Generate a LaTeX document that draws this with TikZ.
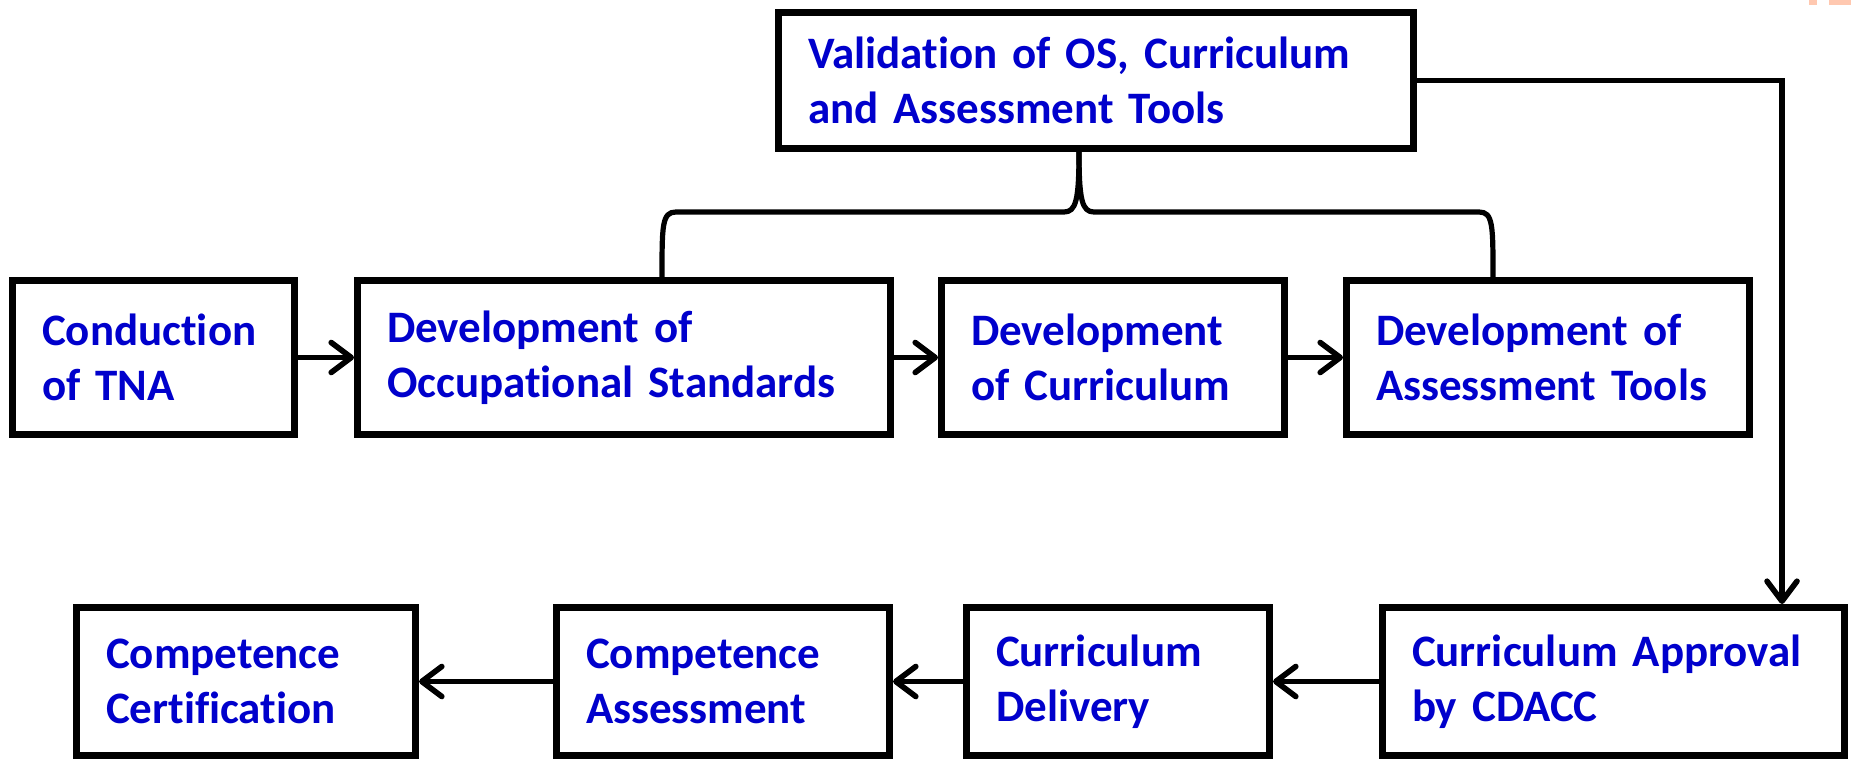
\documentclass[tikz,border=0pt]{standalone}
\usepackage{fontspec}
\setmainfont{Carlito}[Ligatures=NoCommon, WordSpace=0.7]
\usetikzlibrary{arrows.meta,calc}
\definecolor{stageblue}{RGB}{0,0,204}
\definecolor{cornerorange}{RGB}{255,200,176}
\tikzset{
  stage/.style={draw=black, line width=3.5pt, fill=white, text=stageblue,
    font=\bfseries\fontsize{22.5}{27.5}\selectfont, align=left,
    inner xsep=14.75pt, inner ysep=0pt},
  flow/.style={line width=2.8pt, -{Straight Barb[length=10pt,width=15pt,round]}},
  link/.style={line width=2.6pt, line cap=round},
}

\begin{document}
\begin{tikzpicture}[x=0.5pt,y=-0.5pt]
\useasboundingbox (0,0) rectangle (1851,759);

% corner remnant
\fill[cornerorange] (1809,0) rectangle (1817,5);
\fill[cornerorange] (1829,0) rectangle (1851,5);

% validation box
\node[stage, minimum width=317.5pt, text width=288pt, minimum height=68pt] (valid) at (1096,80.5) {Validation of OS, Curriculum\\and Assessment Tools};

% development row
\node[stage, minimum width=141pt, text width=111.5pt, minimum height=77pt] (tna) at (153.5,357.5) {Conduction\\of TNA};
\node[stage, minimum width=266.5pt, text width=237pt, minimum height=77pt] (os) at (624,357.5) {Development of\\Occupational Standards};
\node[stage, minimum width=171.5pt, text width=142pt, minimum height=77pt] (curr) at (1113,357.5) {Development\\of Curriculum};
\node[stage, minimum width=201.5pt, text width=172pt, minimum height=77pt] (tools) at (1548,357.5) {Development of\\Assessment Tools};

% delivery row
\node[stage, minimum width=169.5pt, text width=140pt, minimum height=74pt] (cert) at (246,681.5) {Competence\\Certification};
\node[stage, minimum width=166.5pt, text width=137pt, minimum height=74pt] (assess) at (723,681.5) {Competence\\Assessment};
\node[stage, minimum width=151.5pt, text width=122pt, minimum height=74pt] (deliv) at (1118,681.5) {Curriculum\\Delivery};
\node[stage, minimum width=231pt, text width=201.5pt, minimum height=74pt] (approval) at (1613.5,681.5) {Curriculum Approval\\by CDACC};

% arrows
\draw[flow] (tna.east) -- (os.west);
\draw[flow] (os.east) -- (curr.west);
\draw[flow] (curr.east) -- (tools.west);
\draw[flow] (approval.west) -- (deliv.east);
\draw[flow] (deliv.west) -- (assess.east);
\draw[flow] (assess.west) -- (cert.east);

\coordinate (bend) at (1782,80.5);
\draw[flow] (valid.east) -- (bend) -- (bend |- approval.north);

% brace
\coordinate (tip) at ($(valid.south)+(-17,0)$);
\coordinate (bl) at ($(os.north)+(38,0)$);
\coordinate (br) at ($(tools.north)+(-55,0)$);
\draw[link] (bl) .. controls +(0,-52) and +(-14,0) .. (676,212) -- (1064,212)
  .. controls (1076,212) and (1079,200) .. (tip);
\draw[link] (tip) .. controls (1079,200) and (1082,212) .. (1094,212) -- (1479,212)
  .. controls +(14,0) and +(0,-52) .. (br);

\end{tikzpicture}
\end{document}
